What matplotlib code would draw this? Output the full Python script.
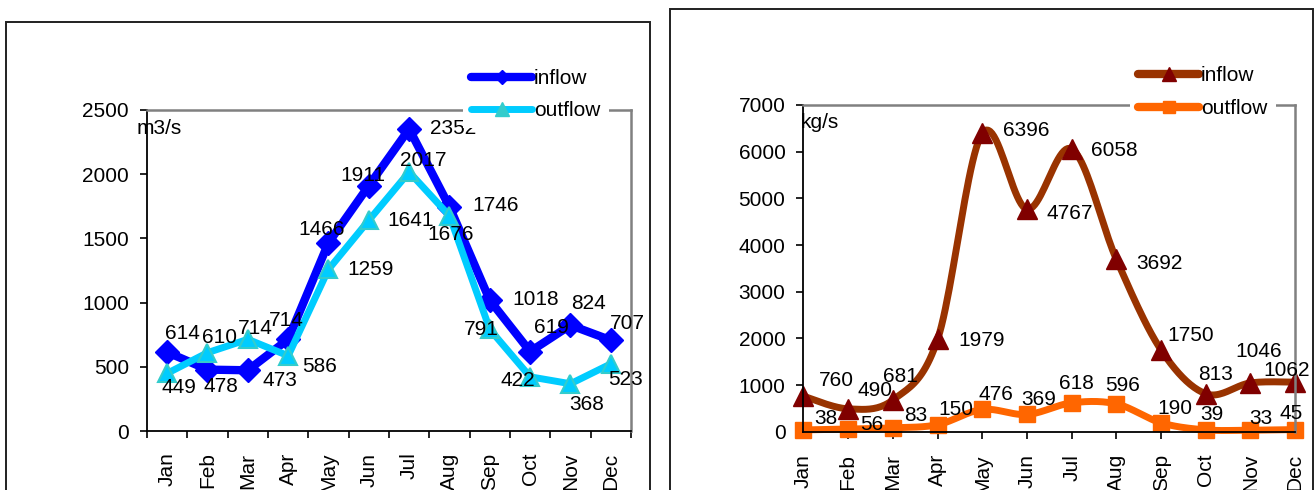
import numpy as np
import matplotlib
matplotlib.use("Agg")
import matplotlib.pyplot as plt
from matplotlib.lines import Line2D
from matplotlib.patches import Rectangle

plt.rcParams['font.family'] = ['Liberation Sans', 'DejaVu Sans']
plt.rcParams['font.size'] = 15

months = ["Jan", "Feb", "Mar", "Apr", "May", "Jun",
          "Jul", "Aug", "Sep", "Oct", "Nov", "Dec"]

# discharge, m3/s
flow_in = [614, 478, 473, 714, 1466, 1911, 2352, 1746, 1018, 619, 824, 707]
flow_out = [449, 610, 714, 586, 1259, 1641, 2017, 1676, 791, 422, 368, 523]

# load, kg/s
load_in = [760, 490, 681, 1979, 6396, 4767, 6058, 3692, 1750, 813, 1046, 1062]
load_out = [38, 56, 83, 150, 476, 369, 618, 596, 190, 39, 33, 45]

# label offsets in pixels (dx, dy)
flow_in_off = [(15, 19), (13, -17), (32, -10), (-2, 19), (-7, 13), (-6, 10),
               (44, 1), (46, 1), (46, 1), (21, 24), (18, 22), (17, 17)]
flow_out_off = [(12, -14), (12, 15), (7, 11), (31, -11), (42, 0), (42, 0),
                (14, 12), (1, -19), (-9, 0), (-12, -4), (16, -21), (15, -16)]
load_in_off = [(33, 16), (27, 18), (8, 23), (44, -1), (44, 3), (43, -4),
               (43, -2), (43, -4), (30, 15), (10, 19), (8, 31), (-9, 12)]
load_out_off = [(22, 11), (24, 5), (23, 12), (18, 15), (14, 15), (12, 15),
                (5, 19), (6, 18), (14, 14), (6, 15), (10, 12), (-4, 16)]


def smooth(x, y, n=24):
    # bezier smoothing through every point, like a spreadsheet "smoothed line"
    p = np.column_stack([x, y]).astype(float)
    p = np.vstack([p[0], p, p[-1]])
    out = []
    t = np.linspace(0, 1, n)[:, None]
    for i in range(1, len(p) - 2):
        p0, p1, p2, p3 = p[i - 1], p[i], p[i + 1], p[i + 2]
        c1 = p1 + (p2 - p0) / 6
        c2 = p2 - (p3 - p1) / 6
        seg = ((1 - t) ** 3) * p1 + 3 * ((1 - t) ** 2) * t * c1 + 3 * (1 - t) * t ** 2 * c2 + t ** 3 * p2
        out.append(seg if i == 1 else seg[1:])
    seg = np.vstack(out)
    return seg[:, 0], seg[:, 1]


def style_axes(ax):
    ax.spines['left'].set_color('black')
    ax.spines['bottom'].set_color('black')
    ax.spines['left'].set_linewidth(1.3)
    ax.spines['bottom'].set_linewidth(1.3)
    ax.spines['top'].set_color('#808080')
    ax.spines['right'].set_color('#808080')
    ax.spines['top'].set_linewidth(1.8)
    ax.spines['right'].set_linewidth(1.8)
    ax.tick_params(axis='y', direction='out', length=5, width=1.2, pad=8)


fig = plt.figure(figsize=(13.14, 4.9), dpi=100)
W, H = 1314, 490

# outer chart frames
fig.add_artist(Rectangle((6 / W, -0.1), (650 - 6) / W, 1.1 - 22 / H,
                         transform=fig.transFigure, fill=False, ec='#202020', lw=1.4))
fig.add_artist(Rectangle((670 / W, -0.1), (1313 - 670) / W, 1.1 - 9 / H,
                         transform=fig.transFigure, fill=False, ec='#202020', lw=1.4))

x = np.arange(12)

# ---- discharge chart
ax1 = fig.add_axes([147 / W, (H - 431) / H, 484 / W, 321 / H])
style_axes(ax1)
ax1.plot(x, flow_in, color='#0000FF', lw=6, marker='D', ms=12,
         mfc='#0000FF', mec='#0000FF', solid_joinstyle='round', label='inflow')
ax1.plot(x, flow_out, color='#00CCFF', lw=5, marker='^', ms=13,
         mfc='#00CCFF', mec='#33CCCC', mew=1.5, solid_joinstyle='round', label='outflow')
for i in range(12):
    ax1.annotate(str(flow_in[i]), (x[i], flow_in[i]), xytext=flow_in_off[i],
                 textcoords='offset pixels', ha='center', va='center')
    ax1.annotate(str(flow_out[i]), (x[i], flow_out[i]), xytext=flow_out_off[i],
                 textcoords='offset pixels', ha='center', va='center')
ax1.set_xlim(-0.5, 11.5)
ax1.set_ylim(0, 2500)
ax1.set_yticks(range(0, 2501, 500))
ax1.set_xticks(x)
ax1.set_xticklabels(months, rotation=90)
ax1.set_xticks(np.arange(-0.5, 12, 1), minor=True)
ax1.tick_params(axis='x', which='major', length=0, pad=15.5)
ax1.tick_params(axis='x', which='minor', direction='out', length=5, width=1.2)
ax1.annotate("m3/s", (0, 1), xycoords='axes fraction', xytext=(-10, -18),
             textcoords='offset pixels', ha='left', va='center')

h1 = [Line2D([], [], color='#0000FF', lw=6, marker='D', ms=7, solid_capstyle='round'),
      Line2D([], [], color='#00CCFF', lw=5, marker='^', ms=10, mfc='#33CCCC',
             mec='#33CCCC', solid_capstyle='round')]
leg1 = ax1.legend(h1, ['inflow', 'outflow'], loc='upper left',
                  bbox_to_anchor=(463 / W, 1 - 61 / H), bbox_transform=fig.transFigure,
                  frameon=True, edgecolor='none', facecolor='white', framealpha=1,
                  fancybox=False, borderpad=0.4, borderaxespad=0, handlelength=2.9,
                  handletextpad=0.1, labelspacing=0.6)

# ---- load chart
ax2 = fig.add_axes([803.5 / W, (H - 431.7) / H, 491.7 / W, 326.7 / H])
style_axes(ax2)
sx, sy = smooth(x, load_in)
ax2.plot(sx, sy, color='#993300', lw=5, solid_capstyle='round', solid_joinstyle='round')
ax2.plot(x, load_in, ls='none', marker='^', ms=14, mfc='#800000', mec='#800000')
sx, sy = smooth(x, load_out)
ax2.plot(sx, sy, color='#FF6600', lw=5, solid_capstyle='round', solid_joinstyle='round')
ax2.plot(x, load_out, ls='none', marker='s', ms=11, mfc='#FF6600', mec='#FF6600')
for i in range(12):
    ax2.annotate(str(load_in[i]), (x[i], load_in[i]), xytext=load_in_off[i],
                 textcoords='offset pixels', ha='center', va='center')
    ax2.annotate(str(load_out[i]), (x[i], load_out[i]), xytext=load_out_off[i],
                 textcoords='offset pixels', ha='center', va='center')
ax2.set_xlim(0, 11)
ax2.set_ylim(0, 7000)
ax2.set_yticks(range(0, 7001, 1000))
ax2.set_xticks(x)
ax2.set_xticklabels(months, rotation=90)
ax2.tick_params(axis='x', direction='out', length=5, width=1.2, pad=11)
for ln in ax2.lines:
    ln.set_clip_on(False)
ax2.annotate("kg/s", (0, 1), xycoords='axes fraction', xytext=(-3, -18),
             textcoords='offset pixels', ha='left', va='center')

h2 = [Line2D([], [], color='#993300', lw=6, marker='^', ms=10, mfc='#800000',
             mec='#800000', solid_capstyle='round'),
      Line2D([], [], color='#FF6600', lw=6, marker='s', ms=8, solid_capstyle='round')]
leg2 = ax2.legend(h2, ['inflow', 'outflow'], loc='upper left',
                  bbox_to_anchor=(1130 / W, 1 - 58 / H), bbox_transform=fig.transFigure,
                  frameon=True, edgecolor='none', facecolor='white', framealpha=1,
                  fancybox=False, borderpad=0.4, borderaxespad=0, handlelength=2.9,
                  handletextpad=0.1, labelspacing=0.65)

for ln in ax1.lines:
    ln.set_clip_on(False)

fig.savefig("out.png", dpi=100)
